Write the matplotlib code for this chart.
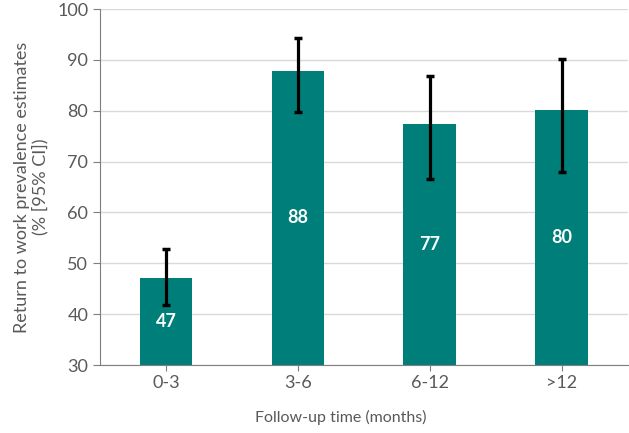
import matplotlib
matplotlib.use("Agg")
import matplotlib.pyplot as plt
import numpy as np

categories = ["0-3", "3-6", "6-12", ">12"]
values = [47.2, 87.9, 77.4, 80.1]
ci_low = [41.8, 79.8, 66.6, 68.0]
ci_high = [52.8, 94.4, 86.8, 90.1]
labels = ["47", "88", "77", "80"]

plt.rcParams['font.family'] = ['Lato', 'DejaVu Sans']
grey = '#595959'

fig = plt.figure(figsize=(6.29, 4.33), dpi=100)
ax = fig.add_axes([0.159, 0.157, 0.839, 0.822])

x = np.arange(len(categories))
v = np.array(values)
yerr = np.array([v - np.array(ci_low), np.array(ci_high) - v])
ax.bar(x, v, width=0.4, color='#007F7A', zorder=2)
ax.errorbar(x, v, yerr=yerr, fmt='none', ecolor='black', elinewidth=2.3, capsize=3, capthick=2.5, zorder=3)

for xi, vi, lab in zip(x, v, labels):
    ax.text(xi, 30 + (vi - 30) / 2, lab, ha='center', va='center', color='white',
            fontsize=13, fontweight='bold', zorder=4)

ax.set_ylim(30, 100)
ax.set_xlim(-0.5, 3.5)
ax.set_yticks(range(30, 101, 10))
ax.set_xticks(x)
ax.set_xticklabels(categories)
ax.grid(axis='y', color='#d9d9d9', linewidth=1, zorder=0)
ax.set_axisbelow(True)
for s in ['top', 'right']:
    ax.spines[s].set_visible(False)
for s in ['left', 'bottom']:
    ax.spines[s].set_color('#7f7f7f')
ax.tick_params(axis='both', colors='#7f7f7f', labelcolor=grey, labelsize=13, length=5)
ax.tick_params(axis='x', length=4)
ax.set_ylabel("Return to work prevalence estimates\n(% [95% CI])", fontsize=13, color=grey,
              linespacing=1.1)
ax.yaxis.set_label_coords(-0.098, 0.5)
ax.set_xlabel("Follow-up time (months)", fontsize=11.5, color=grey)
ax.xaxis.set_label_coords((341 - 100) / 528, -0.125)

fig.savefig("out.png", dpi=100)
